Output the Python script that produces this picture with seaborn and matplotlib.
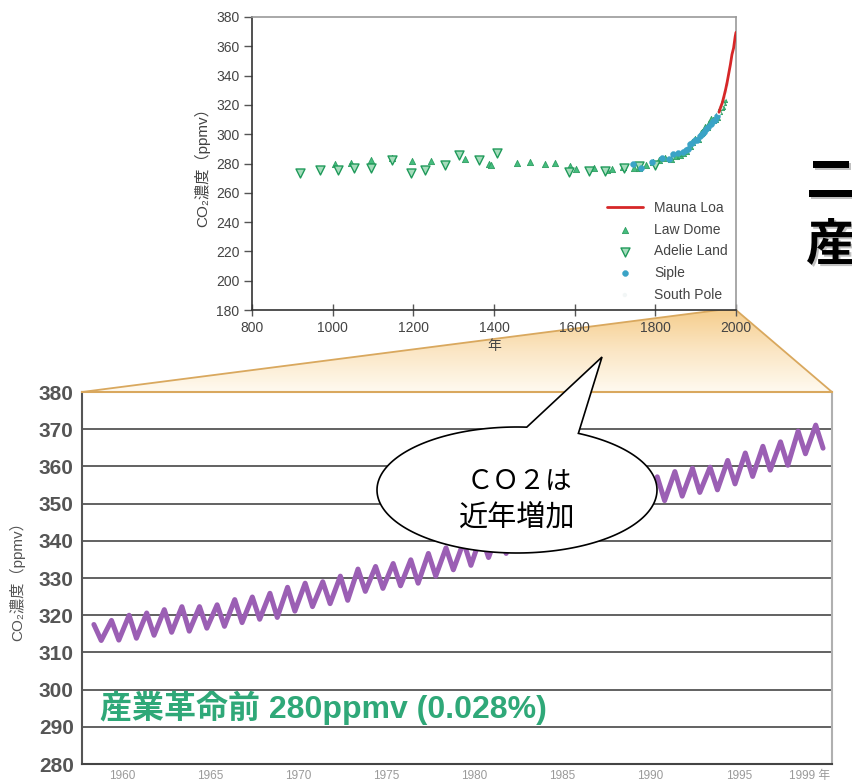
import numpy as np
import pandas as pd
import seaborn as sns
import matplotlib.pyplot as plt
import matplotlib.patheffects as pe
from matplotlib.patches import Polygon
from matplotlib.colors import LinearSegmentedColormap

ml_years = list(range(1958, 2000))
ml_peak = [317.5, 318.6, 320.0, 320.6, 321.5, 322.3, 322.3, 322.8, 324.2, 324.9,
           325.9, 327.5, 328.6, 329.0, 330.5, 332.4, 333.1, 333.9, 334.9, 336.6,
           338.1, 339.7, 341.5, 343.0, 344.4, 345.9, 347.5, 348.9, 350.3, 352.0,
           354.2, 355.8, 357.2, 358.6, 359.5, 359.8, 361.6, 363.6, 365.4, 366.6,
           369.5, 371.1]
ml_trough = [313.2, 313.3, 313.8, 314.6, 315.4, 315.7, 316.5, 317.0, 318.0, 318.9,
             319.4, 321.1, 322.3, 323.1, 324.0, 326.4, 327.2, 327.9, 328.6, 330.5,
             332.2, 333.4, 335.5, 336.6, 337.8, 339.9, 341.1, 342.5, 344.0, 345.7,
             348.2, 349.6, 350.8, 352.0, 353.0, 353.7, 355.3, 357.3, 359.0, 360.3,
             363.4, 364.9]
peak_month = 5
trough_month = 10

bottom_xticks = [1960, 1965, 1970, 1975, 1980, 1985, 1990, 1995, 1999]
bottom_xlabels = ["1960", "1965", "1970", "1975", "1980", "1985", "1990", "1995", "1999 年"]

# ---- top panel: ice cores + Mauna Loa (year, ppmv)
maunaloa_year = [1958, 1962, 1966, 1970, 1974, 1978, 1982, 1986, 1990, 1994, 1998, 2000]
maunaloa_ppm = [315.0, 318.5, 321.4, 325.7, 330.2, 335.4, 341.4, 347.4, 354.4, 358.8, 366.7, 369.5]

lawdome_year = [1006, 1046, 1096, 1146, 1196, 1244, 1327, 1387, 1393, 1457, 1489, 1527,
                1550, 1589, 1604, 1647, 1679, 1692, 1720, 1747, 1760, 1777, 1794, 1810,
                1825, 1840, 1850, 1861, 1869, 1877, 1886, 1892, 1898, 1905, 1912, 1915,
                1924, 1929, 1932, 1938, 1944, 1948, 1953, 1959, 1962, 1965, 1968, 1970]
lawdome_ppm = [279.4, 280.3, 282.4, 283.8, 281.6, 281.7, 283.4, 280.0, 279.0, 280.4, 281.1, 279.4,
               280.5, 278.3, 276.1, 277.2, 275.9, 276.5, 277.5, 276.9, 276.7, 279.3, 281.0, 282.5,
               284.0, 283.0, 285.1, 286.1, 287.4, 288.8, 291.9, 294.6, 296.5, 296.9, 300.7, 301.3,
               304.8, 305.0, 307.8, 310.5, 309.7, 310.1, 311.9, 315.7, 318.7, 319.4, 322.0, 324.1]

adelie_year = [918, 968, 1012, 1054, 1096, 1146, 1195, 1230, 1279, 1314, 1363, 1407,
               1585, 1635, 1675, 1723, 1760, 1800]
adelie_ppm = [273.6, 275.8, 275.8, 277.0, 277.0, 282.7, 273.6, 275.8, 279.0, 286.0, 282.7, 287.0,
              274.0, 275.0, 275.0, 277.0, 278.0, 279.0]

siple_year = [1744, 1764, 1791, 1816, 1834, 1843, 1857, 1868, 1875, 1880, 1886, 1891,
              1898, 1903, 1910, 1915, 1920, 1925, 1930, 1937, 1942, 1947, 1953]
siple_ppm = [279.7, 276.6, 280.7, 283.8, 283.0, 286.2, 287.2, 288.1, 289.0, 290.0, 293.0, 294.0,
             296.0, 296.0, 299.0, 300.0, 301.5, 303.5, 305.0, 307.0, 309.0, 310.0, 312.7]

southpole_year = [1958, 1962, 1966, 1970, 1974, 1978]
southpole_ppm = [314.5, 318.0, 320.5, 324.5, 329.0, 334.0]

purple = "#9b5fb4"
green = "#2fa878"
dark = "#444444"

sns.set_theme(style="white")
plt.rcParams['font.family'] = ['Liberation Sans', 'Noto Sans CJK JP', 'DejaVu Sans']

fig = plt.figure(figsize=(8.52, 7.84), dpi=100)
W, H = 852, 784


def px_rect(x0, y0, x1, y1):
    return [x0 / W, 1 - y1 / H, (x1 - x0) / W, (y1 - y0) / H]


ax_top = fig.add_axes(px_rect(252, 17, 736, 310))
ax_bot = fig.add_axes(px_rect(82, 392, 832, 764))

# ---------------- top panel
sns.lineplot(x=maunaloa_year, y=maunaloa_ppm, ax=ax_top, color="#d62728", lw=2,
             label="Mauna Loa", zorder=5)
sns.scatterplot(x=lawdome_year, y=lawdome_ppm, ax=ax_top, marker="^", s=20,
                color="#45bd7e", edgecolor="#2e9e62", linewidth=0.6, label="Law Dome")
sns.scatterplot(x=adelie_year, y=adelie_ppm, ax=ax_top, marker="v", s=42,
                color="#a6dcbc", edgecolor="#1f9a5a", linewidth=1.0, label="Adelie Land")
sns.scatterplot(x=siple_year, y=siple_ppm, ax=ax_top, marker="o", s=18,
                color="#3aa3c6", edgecolor="#3aa3c6", label="Siple")
sns.scatterplot(x=southpole_year, y=southpole_ppm, ax=ax_top, marker="o", s=10,
                color="#f2f6f6", edgecolor="none", label="South Pole")

ax_top.set_xlim(800, 2000)
ax_top.set_ylim(180, 380)
ax_top.set_xticks(range(800, 2001, 200))
ax_top.set_yticks(range(180, 381, 20))
ax_top.tick_params(axis="y", direction="out", length=6, width=1, color="#555",
                   labelsize=10, labelcolor=dark, pad=3, left=True)
ax_top.tick_params(axis="x", direction="inout", length=8, width=1, color="#555",
                   labelsize=10, labelcolor=dark, pad=4, bottom=True)
ax_top.set_xlabel("年", fontsize=10, color=dark, labelpad=3)
ax_top.set_ylabel("CO₂濃度（ppmv）", fontsize=11, color=dark, labelpad=4)
for side in ["left", "bottom"]:
    ax_top.spines[side].set_color("#333333")
    ax_top.spines[side].set_linewidth(1.2)
for side in ["top", "right"]:
    ax_top.spines[side].set_color("#9a9a9a")
    ax_top.spines[side].set_linewidth(1.2)

handles, labels = ax_top.get_legend_handles_labels()
order = ["Mauna Loa", "Law Dome", "Adelie Land", "Siple", "South Pole"]
hmap = dict(zip(labels, handles))
ax_top.legend([hmap[k] for k in order], order, loc="lower right", frameon=False,
              fontsize=10, handlelength=2.6, labelspacing=0.55,
              borderaxespad=0.2, labelcolor=dark)

# ---------------- bottom panel
rows = []
for yr, pk, tr in zip(ml_years, ml_peak, ml_trough):
    rows.append((yr + (peak_month - 0.5) / 12, pk))
    rows.append((yr + (trough_month - 0.5) / 12, tr))
ml_df = pd.DataFrame(rows, columns=["year", "ppm"])

sns.lineplot(data=ml_df, x="year", y="ppm", ax=ax_bot, color=purple, lw=3.6,
             sort=False, zorder=3)
ax_bot.set_xlim(1957.7, 2000.3)
ax_bot.set_ylim(280, 380)
ax_bot.set_yticks(range(280, 381, 10))
ax_bot.set_xticks(bottom_xticks)
ax_bot.set_xticklabels(bottom_xlabels)
ax_bot.grid(axis="y", color="#555555", lw=1.3)
ax_bot.grid(axis="x", visible=False)
ax_bot.tick_params(axis="y", length=0, pad=6, labelsize=15, labelcolor="#555555")
for t in ax_bot.get_yticklabels():
    t.set_fontweight("bold")
ax_bot.tick_params(axis="x", length=0, pad=4, labelsize=8.5, labelcolor="#9a9a9a")
ax_bot.set_xlabel("")
ax_bot.set_ylabel("CO₂濃度（ppmv）", fontsize=11, color="#555555", labelpad=10)
ax_bot.spines["left"].set_color("#555555")
ax_bot.spines["left"].set_linewidth(1.5)
ax_bot.spines["bottom"].set_color("#444444")
ax_bot.spines["bottom"].set_linewidth(1.5)
ax_bot.spines["right"].set_color("#b0b0b0")
ax_bot.spines["right"].set_linewidth(1.5)
ax_bot.spines["top"].set_color("#d9a85e")
ax_bot.spines["top"].set_linewidth(1.5)

ax_bot.text(1958.7, 295, "産業革命前 280ppmv (0.028%)", color=green, fontsize=23,
            fontweight="bold", va="center", ha="left", zorder=4)

# ---------------- zoom fan between panels
bg = fig.add_axes([0, 0, 1, 1], zorder=-1)
bg.set_xlim(0, 1)
bg.set_ylim(0, 1)
bg.axis("off")
to_fig = fig.transFigure.inverted()
p_tl = to_fig.transform(ax_top.transData.transform((1958, 180)))
p_tr = to_fig.transform(ax_top.transData.transform((2000, 180)))
p_bl = to_fig.transform(ax_bot.transAxes.transform((0, 1)))
p_br = to_fig.transform(ax_bot.transAxes.transform((1, 1)))
fan = Polygon([p_tl, p_tr, p_br, p_bl], closed=True, facecolor="none",
              edgecolor="#d9a85e", lw=1.3)
bg.add_patch(fan)
cmap = LinearSegmentedColormap.from_list("fan", ["#fffaf0", "#fbe6c4", "#f5cd8c"])
grad = np.linspace(0, 1, 256).reshape(-1, 1)
im = bg.imshow(grad, extent=[0, 1, p_tl[1], p_bl[1]], aspect="auto", cmap=cmap,
               origin="upper")
im.set_clip_path(fan)

# ---------------- speech bubble (figure pixel coordinates)
ov = fig.add_axes([0, 0, 1, 1], zorder=10)
ov.set_xlim(0, W)
ov.set_ylim(H, 0)
ov.axis("off")
cx, cy, a, b = 517, 490, 140, 63
t = np.radians(np.linspace(86, 424, 200))
pts = list(zip(cx + a * np.cos(t), cy - b * np.sin(t)))
pts.append((602, 357))
ov.add_patch(Polygon(pts, closed=True, facecolor="white", edgecolor="black", lw=1.2))
ov.text(cx + 2, 481, "ＣＯ２は", fontsize=19, ha="center", va="center", color="black",
        family=['Noto Sans CJK JP', 'DejaVu Sans'])
ov.text(cx, 518, "近年増加", fontsize=21, ha="center", va="center", color="black",
        family=['Noto Sans CJK JP', 'DejaVu Sans'])

# ---------------- title on the right, cut by the page edge as in the source slide
shadow = [pe.SimplePatchShadow(offset=(1.5, -1.5), shadow_rgbFace="#999999", alpha=0.6),
          pe.Normal()]
ov.text(806, 182, "二", fontsize=36, fontweight="bold", ha="left", va="center",
        color="black", family=['Noto Sans CJK JP'], path_effects=shadow)
ov.text(806, 246, "産", fontsize=36, fontweight="bold", ha="left", va="center",
        color="black", family=['Noto Sans CJK JP'], path_effects=shadow)

fig.savefig("out.png", dpi=100)
